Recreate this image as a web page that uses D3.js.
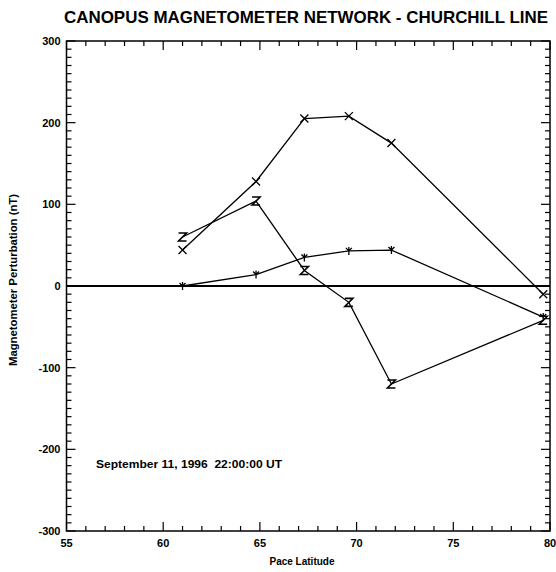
<!DOCTYPE html>
<html>
<head>
<meta charset="utf-8">
<script src="https://cdn.jsdelivr.net/npm/d3@7"></script>
<style>
  html, body { margin: 0; padding: 0; background: #fff; }
  svg text { font-family: "Liberation Sans", Arial, Helvetica, sans-serif; font-weight: bold; fill: #000; white-space: pre; }
</style>
</head>
<body>
<svg id="chart" width="556" height="572"></svg>
<script>
// PACE latitudes of the Churchill line stations
const latitudes = [61.0, 64.8, 67.3, 69.6, 71.8, 79.65];

// Perturbation components (nT) at each station
const seriesX = [44, 128, 205, 208, 175, -10];
const seriesZ = [60, 104, 19, -20, -120, -42];
const seriesY = [0, 14, 35, 43, 44, -38];

const xTicks = [55, 60, 65, 70, 75, 80];
const yTicks = [-300, -200, -100, 0, 100, 200, 300];

const titleText = "CANOPUS MAGNETOMETER NETWORK - CHURCHILL LINE";
const xLabel = "Pace Latitude";
const yLabel = "Magnetometer Perturbation (nT)";
const note = "September 11, 1996  22:00:00 UT";

const svg = d3.select("#chart");
const plotL = 66.5, plotR = 550, plotT = 41, plotB = 531;

const x = d3.scaleLinear().domain([55, 80]).range([plotL, plotR]);
const y = d3.scaleLinear().domain([-300, 300]).range([plotB, plotT]);

// Frame
svg.append("rect")
  .attr("x", plotL).attr("y", plotT)
  .attr("width", plotR - plotL).attr("height", plotB - plotT)
  .attr("fill", "none").attr("stroke", "#000").attr("stroke-width", 1.5);

// Inward ticks on all four sides
const xMinor = d3.range(55, 80.5, 1);
const yMinor = d3.range(-300, 301, 10);
const tickG = svg.append("g").attr("stroke", "#000").attr("stroke-width", 1.2);
xMinor.forEach(v => {
  const len = v % 5 === 0 ? 9 : 5;
  tickG.append("line").attr("x1", x(v)).attr("x2", x(v)).attr("y1", plotB).attr("y2", plotB - len);
  tickG.append("line").attr("x1", x(v)).attr("x2", x(v)).attr("y1", plotT).attr("y2", plotT + len);
});
yMinor.forEach(v => {
  const len = v % 100 === 0 ? 9 : 5;
  tickG.append("line").attr("y1", y(v)).attr("y2", y(v)).attr("x1", plotL).attr("x2", plotL + len);
  tickG.append("line").attr("y1", y(v)).attr("y2", y(v)).attr("x1", plotR).attr("x2", plotR - len);
});

// Tick labels
svg.append("g").selectAll("text").data(xTicks).join("text")
  .attr("x", d => x(d)).attr("y", plotB + 16)
  .attr("text-anchor", "middle").attr("font-size", 11)
  .text(d => d);
svg.append("g").selectAll("text").data(yTicks).join("text")
  .attr("x", plotL - 6).attr("y", d => y(d) + 4)
  .attr("text-anchor", "end").attr("font-size", 11)
  .text(d => d);

// Zero reference line
svg.append("line")
  .attr("x1", plotL).attr("x2", plotR)
  .attr("y1", y(0)).attr("y2", y(0))
  .attr("stroke", "#000").attr("stroke-width", 2);

const line = d3.line().x(d => x(d[0])).y(d => y(d[1]));

function drawSeries(vals, marker) {
  const pts = latitudes.map((lat, i) => [lat, vals[i]]);
  svg.append("path").datum(pts)
    .attr("d", line).attr("fill", "none")
    .attr("stroke", "#000").attr("stroke-width", 1.3);
  const g = svg.append("g").attr("stroke", "#000").attr("fill", "none").attr("stroke-width", 1.3);
  pts.forEach(p => marker(g, x(p[0]), y(p[1])));
}

const s = 4;
function crossMark(g, cx, cy) {
  g.append("path").attr("d", `M${cx - s},${cy - s}L${cx + s},${cy + s}M${cx - s},${cy + s}L${cx + s},${cy - s}`);
}
function zMark(g, cx, cy) {
  g.append("path").attr("d", `M${cx - s},${cy - s}L${cx + s},${cy - s}L${cx - s},${cy + s}L${cx + s},${cy + s}`)
    .attr("stroke-width", 1.6);
}
function tickMark(g, cx, cy) {
  g.append("path").attr("d", `M${cx},${cy - s}L${cx},${cy + s}M${cx - 3},${cy - 3}L${cx},${cy}L${cx + 3},${cy - 3}`);
}

drawSeries(seriesX, crossMark);
drawSeries(seriesZ, zMark);
drawSeries(seriesY, tickMark);

// Title and axis labels
svg.append("text").attr("x", 306).attr("y", 23)
  .attr("text-anchor", "middle").attr("font-size", 17)
  .attr("textLength", 484).attr("lengthAdjust", "spacingAndGlyphs")
  .text(titleText);
svg.append("text").attr("x", 302).attr("y", 565)
  .attr("text-anchor", "middle").attr("font-size", 10).text(xLabel);
svg.append("text")
  .attr("transform", "translate(17,280) rotate(-90)")
  .attr("text-anchor", "middle").attr("font-size", 10.5)
  .attr("textLength", 172).attr("lengthAdjust", "spacingAndGlyphs")
  .text(yLabel);

svg.append("text").attr("x", 96).attr("y", 468)
  .attr("font-size", 10)
  .attr("textLength", 186).attr("lengthAdjust", "spacingAndGlyphs")
  .text(note);
</script>
</body>
</html>
